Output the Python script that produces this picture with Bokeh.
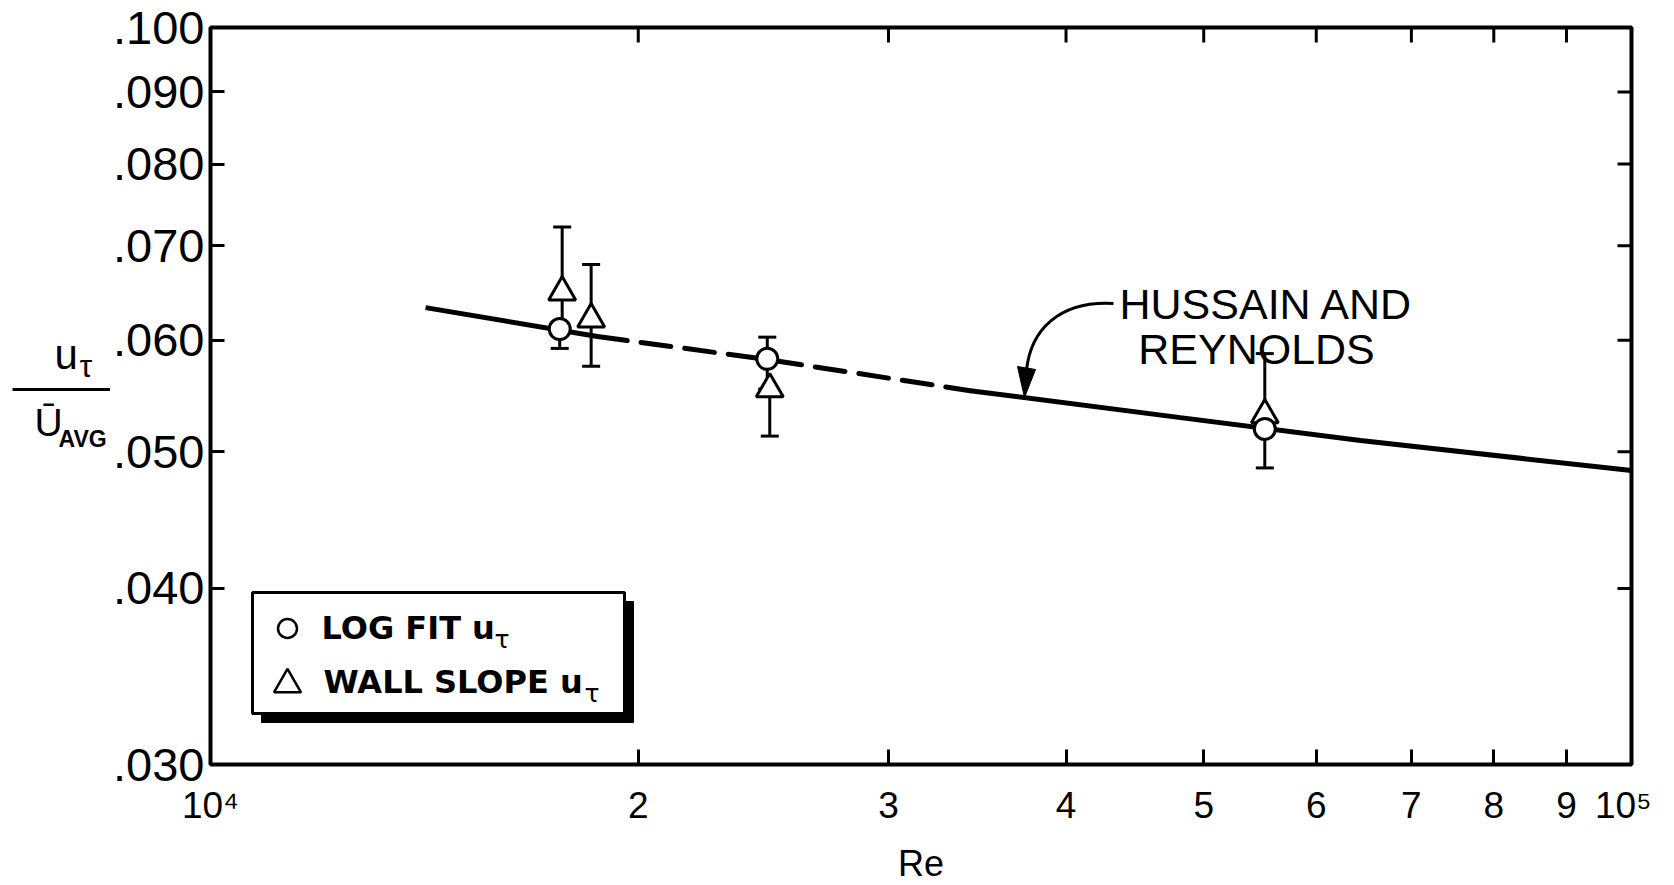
import math
from bokeh.plotting import figure
from bokeh.layouts import row
from bokeh.models import Range1d, FixedTicker, BoxAnnotation
from bokeh.core.properties import value
from bokeh.embed import file_html
from bokeh.resources import INLINE

# ---------------- data ----------------
# Log-fit u_tau (circles)
re_logfit = [1.761e4, 2.465e4, 5.52e4]
ut_logfit = [0.0611, 0.0582, 0.0519]
err_lo_logfit = [0.0592, 0.0554, 0.0487]
err_hi_logfit = [0.0611, 0.0603, 0.0519]

# Wall-slope u_tau (triangles)
re_wall = [1.768e4, 1.853e4, 2.475e4, 5.52e4]
ut_wall = [0.0649, 0.0621, 0.0554, 0.0531]
err_lo_wall = [0.0611, 0.0575, 0.0513, 0.0519]
err_hi_wall = [0.0722, 0.0679, 0.0554, 0.0587]

# Hussain and Reynolds curve
hr_re = [1.417e4, 1.872e4, 2.466e4, 3.425e4, 4.815e4, 6.446e4, 1.0e5]
hr_ut = [0.06328, 0.06036, 0.05813, 0.05525, 0.05287, 0.05093, 0.04849]

# Ticks
x_ticks = [1e4, 2e4, 3e4, 4e4, 5e4, 6e4, 7e4, 8e4, 9e4, 1e5]
x_tick_labels = ["10\u2074", "2", "3", "4", "5", "6", "7", "8", "9", "10\u2075"]
y_ticks = [0.03, 0.04, 0.05, 0.06, 0.07, 0.08, 0.09, 0.10]
y_tick_labels = [".030", ".040", ".050", ".060", ".070", ".080", ".090", ".100"]

# ---------------- layout helpers (annotation placement, page px) ----------------
FONT = "Liberation Sans"
LEG_FONT = "DejaVu Sans"
LAB_W = 110                      # width of the strip that holds the y-axis title
FRAME_L, FRAME_T, FRAME_W, FRAME_H = 210, 27, 1421, 737
X_MIN, X_MAX = 1e4, 1e5
Y_MIN, Y_MAX = 0.03, 0.10
BASE_SHIFT = 0.38                # text glyphs are anchored near their middle


def px_x(px):
    return X_MIN * (X_MAX / X_MIN) ** ((px - FRAME_L) / FRAME_W)


def px_y(py):
    return Y_MAX * (Y_MIN / Y_MAX) ** ((py - FRAME_T) / FRAME_H)


def base_y(py, size):
    """page-px baseline -> anchor position for a text glyph of the given size"""
    return py - BASE_SHIFT * size


p = figure(frame_width=FRAME_W, frame_height=FRAME_H,
           x_axis_type="log", y_axis_type="log",
           x_range=Range1d(X_MIN, X_MAX), y_range=Range1d(Y_MIN, Y_MAX),
           output_backend="svg", toolbar_location=None,
           min_border_left=FRAME_L - LAB_W, min_border_top=FRAME_T,
           min_border_right=20, min_border_bottom=100)
p.grid.visible = False
p.outline_line_color = "black"
p.outline_line_width = 4
p.background_fill_color = "white"
p.border_fill_color = "white"

# bottom axis
xb = p.xaxis[0]
xb.ticker = FixedTicker(ticks=x_ticks)
xb.major_label_overrides = dict(zip(x_ticks, x_tick_labels))
xb.axis_line_color = None
xb.major_tick_in = 15
xb.major_tick_out = 0
xb.major_tick_line_width = 3
xb.minor_tick_line_color = None
xb.major_label_standoff = 20
xb.major_label_text_font = FONT
xb.major_label_text_font_size = "37px"
xb.major_label_text_color = "black"
xb.axis_label = "Re"
xb.axis_label_text_font = FONT
xb.axis_label_text_font_size = "36px"
xb.axis_label_text_font_style = "normal"
xb.axis_label_text_color = "black"
xb.axis_label_standoff = 14

# left axis
yl = p.yaxis[0]
yl.ticker = FixedTicker(ticks=y_ticks)
yl.major_label_overrides = dict(zip(y_ticks, y_tick_labels))
yl.axis_line_color = None
yl.major_tick_in = 14
yl.major_tick_out = 0
yl.major_tick_line_width = 3
yl.minor_tick_line_color = None
yl.major_label_standoff = 6
yl.major_label_text_font = FONT
yl.major_label_text_font_size = "47px"
yl.major_label_text_color = "black"

# inward ticks on the top and right frame edges (same tick values, no labels)
top_ticks = x_ticks[1:-1]
p.segment(x0=top_ticks, y0=[Y_MAX] * len(top_ticks), x1=top_ticks,
          y1=[px_y(FRAME_T + 15)] * len(top_ticks), line_color="black", line_width=3)
right_ticks = y_ticks[1:-1]
p.segment(x0=[X_MAX] * len(right_ticks), y0=right_ticks,
          x1=[px_x(FRAME_L + FRAME_W - 14)] * len(right_ticks), y1=right_ticks,
          line_color="black", line_width=3)

# ---------------- Hussain & Reynolds curve ----------------
p.line(hr_re[0:2], hr_ut[0:2], line_color="black", line_width=5)
p.line(hr_re[1:4], hr_ut[1:4], line_color="black", line_width=5,
       line_dash="30 14", line_cap="round")
p.line(hr_re[3:], hr_ut[3:], line_color="black", line_width=5)

# ---------------- error bars ----------------
p.segment(x0=re_wall, y0=err_lo_wall, x1=re_wall, y1=err_hi_wall,
          line_color="black", line_width=3)
p.segment(x0=re_logfit, y0=err_lo_logfit, x1=re_logfit, y1=err_hi_logfit,
          line_color="black", line_width=3)
p.scatter(x=re_wall + re_wall, y=err_lo_wall + err_hi_wall, marker="dash",
          size=18, line_color="black", line_width=3)
p.scatter(x=re_logfit + re_logfit, y=err_lo_logfit + err_hi_logfit, marker="dash",
          size=18, line_color="black", line_width=3)

# ---------------- markers ----------------
p.scatter(re_wall, ut_wall, marker="triangle", size=27, fill_color="white",
          line_color="black", line_width=3)
p.scatter(re_logfit, ut_logfit, marker="circle", size=21, fill_color="white",
          line_color="black", line_width=3)

# ---------------- annotation: HUSSAIN AND REYNOLDS ----------------
p.text(x=[px_x(1119)], y=[px_y(base_y(320, 43))], text=["HUSSAIN AND"],
       text_font=value(FONT), text_font_size="43px", text_color="black",
       text_align="left", text_baseline="alphabetic")
p.text(x=[px_x(1256)], y=[px_y(base_y(365, 43))], text=["REYNOLDS"],
       text_font=value(FONT), text_font_size="43px", text_color="black",
       text_align="center", text_baseline="alphabetic")
p.bezier(x0=[px_x(1113)], y0=[px_y(303)], x1=[px_x(1026)], y1=[px_y(370)],
         cx0=[px_x(1058)], cy0=[px_y(300)], cx1=[px_x(1030)], cy1=[px_y(330)],
         line_color="black", line_width=3)
p.patch([px_x(1017), px_x(1035), px_x(1024)], [px_y(366), px_y(369), px_y(397)],
        fill_color="black", line_color="black", line_width=1)

# ---------------- legend (boxed, with drop shadow) ----------------
p.add_layout(BoxAnnotation(left=px_x(261), right=px_x(633), top=px_y(601), bottom=px_y(722),
                           fill_color="black", fill_alpha=1, line_color="black",
                           line_alpha=1, line_width=1, level="underlay"))
p.add_layout(BoxAnnotation(left=px_x(252), right=px_x(624), top=px_y(592), bottom=px_y(713),
                           fill_color="white", fill_alpha=1, line_color="black",
                           line_alpha=1, line_width=3, level="underlay"))
p.scatter([px_x(287)], [px_y(628)], marker="circle", size=19, fill_color="white",
          line_color="black", line_width=2.5)
p.scatter([px_x(287)], [px_y(684)], marker="triangle", size=27, fill_color="white",
          line_color="black", line_width=2.5)
p.text(x=[px_x(321), px_x(323)], y=[px_y(base_y(640, 32)), px_y(base_y(694, 32))],
       text=["LOG FIT u", "WALL SLOPE u"], text_font=value(LEG_FONT),
       text_font_size="32px", text_font_style="bold", text_color="black",
       text_baseline="alphabetic")
p.text(x=[px_x(494), px_x(584)], y=[px_y(base_y(648, 25)), px_y(base_y(702, 25))],
       text=["\u03c4", "\u03c4"], text_font=value(LEG_FONT), text_font_size="25px",
       text_color="black", text_baseline="alphabetic")

# ---------------- y-axis title strip: u_tau / U_AVG (y in page px) ----------------
lab = figure(frame_width=LAB_W, frame_height=FRAME_H,
             x_range=Range1d(0, LAB_W), y_range=Range1d(FRAME_T + FRAME_H, FRAME_T),
             x_axis_location=None, y_axis_location=None,
             min_border_left=0, min_border_right=0, min_border_top=FRAME_T,
             min_border_bottom=100, output_backend="svg", toolbar_location=None)
lab.grid.visible = False
lab.outline_line_color = None
lab.background_fill_color = "white"
lab.border_fill_color = "white"
lab.text(x=[54], y=[base_y(370, 42)], text=["u"], text_font=value(FONT),
         text_font_size="42px", text_color="black", text_baseline="alphabetic")
lab.text(x=[79], y=[base_y(378, 32)], text=["\u03c4"], text_font=value(FONT),
         text_font_size="32px", text_color="black", text_baseline="alphabetic")
lab.segment(x0=[12], y0=[389], x1=[LAB_W], y1=[389], line_color="black", line_width=3)
lab.text(x=[34], y=[base_y(437, 39)], text=["\u016a"], text_font=value(FONT),
         text_font_size="39px", text_color="black", text_baseline="alphabetic")
lab.text(x=[58], y=[base_y(447, 23)], text=["AVG"], text_font=value(FONT),
         text_font_size="23px", text_font_style="bold", text_color="black",
         text_baseline="alphabetic")

layout = row(lab, p)
open("out.html", "w").write(file_html(layout, INLINE))
